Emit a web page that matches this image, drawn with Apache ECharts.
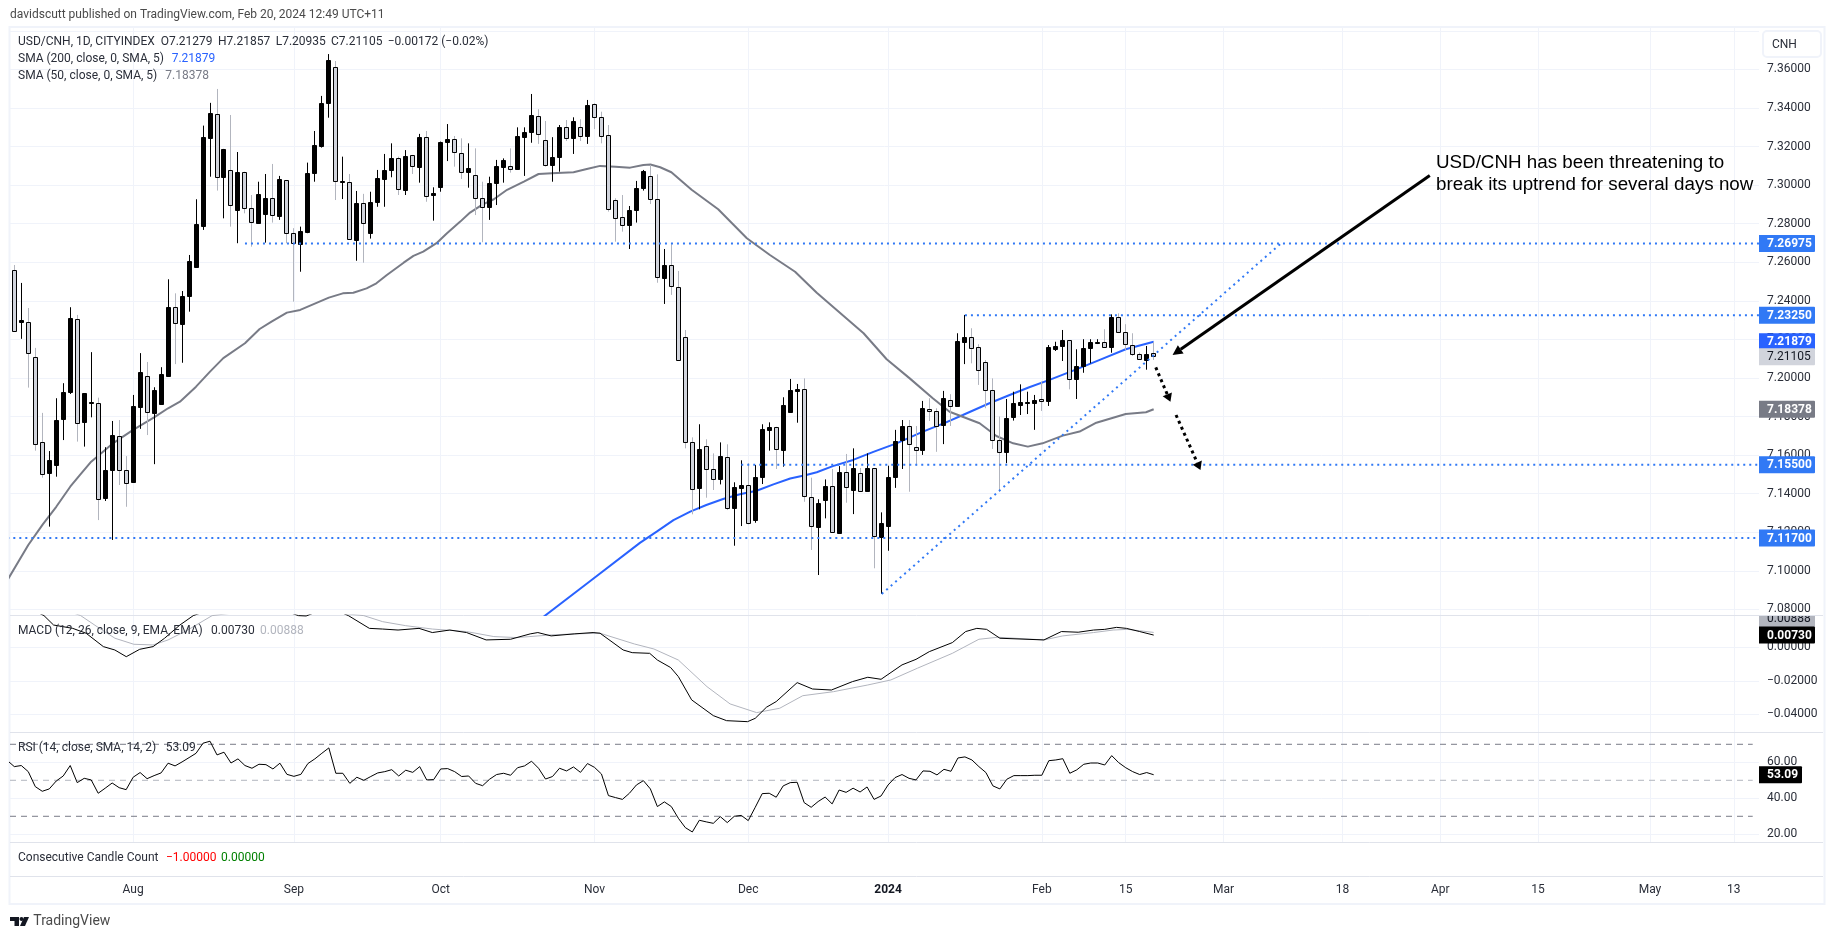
<!DOCTYPE html>
<html>
<head>
<meta charset="utf-8">
<title>USD/CNH</title>
<script src="https://cdn.jsdelivr.net/npm/echarts@6/dist/echarts.min.js"></script>
<style>
html, body { margin: 0; padding: 0; background: #fff; }
#main { width: 1835px; height: 939px; }
</style>
</head>
<body>
<div id="main"></div>
<script>
// daily bars
var opens = [
    7.2560,7.2293,7.2292,7.2111,7.1670,7.1504,7.1550,7.1784,7.1924,7.2305,
    7.1768,7.1872,7.1872,7.1374,7.1520,7.1701,7.1525,7.1457,7.1851,7.2009,
    7.1820,7.1865,7.2007,7.2367,7.2280,7.2422,7.2578,7.2790,7.3247,7.3368,
    7.3044,7.3077,7.2873,7.3067,7.2880,7.2806,7.2849,7.2932,7.2840,7.3026,
    7.2751,7.2692,7.2759,7.3060,7.3203,7.3423,7.3611,7.3016,7.3015,7.2717,
    7.2908,7.2754,7.2909,7.3032,7.3075,7.3139,7.2972,7.3155,7.3096,7.3249,
    7.2947,7.2987,7.3226,7.3238,7.3165,7.3065,7.3051,7.2932,7.2883,7.3008,
    7.3096,7.3098,7.3080,7.3247,7.3272,7.3361,7.3233,7.3101,7.3143,7.3300,
    7.3241,7.3300,7.3251,7.3420,7.3355,7.3259,7.2925,7.2833,7.2790,7.2868,
    7.2982,7.3046,7.2927,7.2520,7.2585,7.2474,7.2211,7.1670,7.1428,7.1649,
    7.1529,7.1472,7.1591,7.1322,7.1431,7.1444,7.1260,7.1483,7.1732,7.1744,
    7.1623,7.1825,7.1933,7.1941,7.1381,7.1229,7.1363,7.1438,7.1197,7.1511,
    7.1419,7.1506,7.1414,7.1532,7.1172,7.1232,7.1483,7.1678,7.1749,7.1640,
    7.1623,7.1841,7.1830,7.1757,7.1884,7.1851,7.2188,7.2214,7.2159,7.2081,
    7.1936,7.1677,7.1613,7.1794,7.1856,7.1871,7.1867,7.1889,7.1877,7.2147,
    7.2163,7.2196,7.1996,7.2059,7.2152,7.2183,7.2185,7.2157,7.2315,7.2237,
    7.2173,7.2123,7.2095,7.21279
];
var highs = [
    7.2586,7.2493,7.2363,7.2156,7.1819,7.1621,7.1895,7.1973,7.2367,7.2327,
    7.1921,7.2134,7.1898,7.1641,7.1777,7.1782,7.1595,7.1912,7.2129,7.2083,
    7.1952,7.2056,7.2512,7.2439,7.2451,7.2638,7.2927,7.3309,7.3427,7.3499,
    7.3188,7.3364,7.3172,7.3070,7.2949,7.3018,7.3058,7.3110,7.3048,7.3027,
    7.2777,7.2785,7.3117,7.3281,7.3463,7.3680,7.3644,7.3148,7.3058,7.2970,
    7.2955,7.2966,7.3079,7.3162,7.3217,7.3148,7.3182,7.3157,7.3266,7.3281,
    7.2989,7.3226,7.3317,7.3255,7.3243,7.3217,7.3191,7.3018,7.3044,7.3131,
    7.3139,7.3191,7.3300,7.3300,7.3473,7.3394,7.3333,7.3249,7.3312,7.3338,
    7.3352,7.3342,7.3442,7.3425,7.3381,7.3312,7.2932,7.2949,7.2892,7.3022,
    7.3079,7.3105,7.3056,7.2669,7.2694,7.2555,7.2249,7.1692,7.1760,7.1682,
    7.1609,7.1666,7.1656,7.1459,7.1573,7.1558,7.1549,7.1760,7.1770,7.1747,
    7.1900,7.1995,7.1969,7.1998,7.1483,7.1371,7.1474,7.1528,7.1543,7.1606,
    7.1635,7.1533,7.1609,7.1532,7.1303,7.1545,7.1731,7.1782,7.1782,7.1751,
    7.1881,7.1895,7.1843,7.1933,7.1916,7.2232,7.2327,7.2258,7.2175,7.2093,
    7.1998,7.1800,7.1891,7.1929,7.1967,7.1929,7.1912,7.1981,7.2171,7.2188,
    7.2249,7.2197,7.2149,7.2201,7.2201,7.2201,7.2253,7.2330,7.2335,7.2279,
    7.2232,7.2132,7.2166,7.21857
];
var lows = [
    7.2244,7.2203,7.1950,7.1623,7.1483,7.1229,7.1488,7.1678,7.1917,7.1670,
    7.1644,7.1796,7.1263,7.1362,7.1160,7.1445,7.1332,7.1457,7.1736,7.1704,
    7.1553,7.1860,7.2007,7.2072,7.2079,7.2344,7.2578,7.2768,7.3044,7.2972,
    7.2828,7.2785,7.2699,7.2854,7.2681,7.2806,7.2702,7.2806,7.2820,7.2699,
    7.2396,7.2551,7.2751,7.3018,7.3195,7.3350,7.2923,7.2928,7.2717,7.2608,
    7.2598,7.2723,7.2888,7.2888,7.3041,7.2949,7.2949,7.3058,7.3013,7.2914,
    7.2816,7.2966,7.3125,7.3096,7.3032,7.2987,7.2845,7.2704,7.2820,7.2897,
    7.3013,7.3065,7.3080,7.3048,7.3220,7.3214,7.3096,7.3018,7.3070,7.3229,
    7.3162,7.3229,7.3214,7.3291,7.3217,7.2863,7.2707,7.2759,7.2669,7.2806,
    7.2972,7.2902,7.2494,7.2384,7.2431,7.2097,7.1635,7.1293,7.1319,7.1379,
    7.1419,7.1448,7.1315,7.1130,7.1232,7.1241,7.1249,7.1450,7.1623,7.1528,
    7.1540,7.1825,7.1768,7.1358,7.1108,7.0978,7.1272,7.1197,7.1197,7.1353,
    7.1294,7.1415,7.1410,7.1013,7.0880,7.1104,7.1430,7.1528,7.1410,7.1545,
    7.1601,7.1777,7.1617,7.1657,7.1751,7.1851,7.2072,7.2076,7.1964,7.1843,
    7.1632,7.1410,7.1558,7.1779,7.1808,7.1813,7.1731,7.1829,7.1855,7.2140,
    7.2088,7.1941,7.1891,7.2027,7.2076,7.2176,7.2157,7.2131,7.2233,7.2145,
    7.2114,7.2096,7.2043,7.20935
];
var closes = [
    7.2246,7.2301,7.2129,7.1661,7.1506,7.1573,7.1781,7.1926,7.2310,7.1765,
    7.1921,7.1876,7.1376,7.1521,7.1703,7.1527,7.1460,7.1853,7.2030,7.1820,
    7.1938,7.2019,7.2367,7.2284,7.2425,7.2605,7.2799,7.3250,7.3375,7.3041,
    7.3188,7.2894,7.3068,7.2880,7.2808,7.2955,7.2932,7.2844,7.3031,7.2751,
    7.2699,7.2761,7.3063,7.3207,7.3427,7.3648,7.3018,7.3020,7.2717,7.2908,
    7.2803,7.2913,7.3036,7.3077,7.3139,7.2979,7.3150,7.3096,7.3250,7.2945,
    7.2958,7.3222,7.3240,7.3169,7.3065,7.3088,7.2930,7.2883,7.3010,7.3098,
    7.3131,7.3082,7.3253,7.3274,7.3362,7.3269,7.3103,7.3145,7.3300,7.3243,
    7.3331,7.3253,7.3414,7.3352,7.3259,7.2875,7.2833,7.2790,7.2870,7.2984,
    7.3072,7.2927,7.2522,7.2585,7.2474,7.2097,7.1666,7.1428,7.1630,7.1531,
    7.1479,7.1593,7.1329,7.1433,7.1444,7.1246,7.1485,7.1734,7.1746,7.1628,
    7.1858,7.1938,7.1943,7.1384,7.1229,7.1352,7.1438,7.1197,7.1511,7.1431,
    7.1532,7.1415,7.1532,7.1177,7.1246,7.1485,7.1672,7.1749,7.1656,7.1626,
    7.1843,7.1833,7.1752,7.1895,7.1853,7.2190,7.2214,7.2157,7.2040,7.1936,
    7.1677,7.1615,7.1791,7.1869,7.1874,7.1876,7.1884,7.1877,7.2159,7.2164,
    7.2196,7.1996,7.2061,7.2154,7.2185,7.2188,7.2157,7.2315,7.2237,7.2175,
    7.2128,7.2097,7.2126,7.21105
];

// moving averages, read at the bends of each line
var sma50Bars = [-1,2,4.1,6,8,9.4,11,14,17,20,22,23.7,26,28,29.9,33,35.1,36.8,39,40.9,45,47,48.5,50.4,51.8,53.3,55.7,57.1,58.5,60.4,61.9,63.8,65.2,66.9,68.6,70.5,72.9,75,76.9,80,81.9,83.8,86,88.1,90,91,92.4,94,96.9,100.7,104.8,108.1,111.7,114.8,121.5,124.8,128.1,131.4,133.8,138.1,140.5,142.9,145,147.1,150,152.4,154.8,159,161.9,163];
var sma50Values = [7.0950,7.1134,7.1242,7.1332,7.1436,7.1497,7.1566,7.1658,7.1731,7.1796,7.1843,7.1877,7.1955,7.2033,7.2103,7.2180,7.2254,7.2292,7.2339,7.2353,7.2417,7.2439,7.2442,7.2465,7.2491,7.2534,7.2598,7.2633,7.2655,7.2699,7.2751,7.2811,7.2858,7.2898,7.2927,7.2976,7.3018,7.3058,7.3062,7.3067,7.3084,7.3100,7.3096,7.3091,7.3105,7.3107,7.3093,7.3067,7.2976,7.2875,7.2725,7.2638,7.2551,7.2442,7.2232,7.2097,7.1998,7.1895,7.1825,7.1765,7.1699,7.1661,7.1644,7.1661,7.1701,7.1722,7.1768,7.1813,7.1822,7.18378];
var sma200Bars = [75.7,82.4,89.5,91.9,94.3,96.7,99,101.4,103.8,106.2,108.6,111,113.3,114.8,117.1,120,122.9,126.2,130,133.3,135.7,139.5,142.4,145.2,148.1,151.4,155.2,159,163];
var sma200Values = [7.0761,7.0947,7.1145,7.1203,7.1263,7.1307,7.1341,7.1372,7.1397,7.1415,7.1448,7.1479,7.1497,7.1511,7.1543,7.1575,7.1617,7.1661,7.1722,7.1770,7.1808,7.1869,7.1912,7.1952,7.1990,7.2037,7.2093,7.2149,7.21879];

// MACD pane
var macdBars = [-1,4.25,5.62,8.36,10.27,12.74,14.38,16.02,17.94,19.85,21.5,23.69,25.6,33,40.66,41.75,45,47.8,50.8,52.7,54.9,57.9,59.8,62.3,64.7,67.5,71,73.8,74.9,76.8,80.1,82.8,83.8,87.1,88.4,90.9,92,93.9,95,96.9,100,101.9,104.9,106,107.6,109,112,114.2,116.9,119.9,122.1,124,127,129,130.9,134.2,136.1,137.7,139.1,141,147.3,149.8,152.2,154.4,156,157.7,159.1,161,163];
var macdValues = [0.0300,0.0189,0.0133,0.0113,0.0084,0.0004,-0.0016,-0.0056,-0.0012,0.0004,0.0054,0.0133,0.0189,0.0300,0.0189,0.0187,0.0240,0.0189,0.0113,0.0109,0.0103,0.0113,0.0088,0.0103,0.0088,0.0044,0.0048,0.0080,0.0088,0.0068,0.0080,0.0088,0.0084,-0.0016,-0.0032,-0.0036,-0.0076,-0.0121,-0.0175,-0.0314,-0.0408,-0.0438,-0.0444,-0.0424,-0.0358,-0.0324,-0.0211,-0.0249,-0.0255,-0.0205,-0.0179,-0.0191,-0.0105,-0.0072,-0.0026,0.0028,0.0094,0.0113,0.0107,0.0054,0.0044,0.0094,0.0090,0.0103,0.0107,0.0119,0.0113,0.0094,0.0073];
var signalBars = [-1,9.5,12.2,14.4,17.1,19.85,22,24.8,28.3,38,50,52.7,56,59.8,64.7,68.6,71.9,76.8,80.1,83.8,88.7,91.5,95,99.1,102.4,106.2,109.5,112.8,117.2,122.1,125.4,129.2,134.2,138,140.7,147.3,150,154.4,157.2,159.3,163];
var signalValues = [0.0350,0.0189,0.0113,0.0054,0.0018,0.0014,0.0044,0.0103,0.0189,0.0240,0.0189,0.0153,0.0129,0.0109,0.0094,0.0064,0.0058,0.0074,0.0080,0.0084,0.0020,-0.0010,-0.0076,-0.0235,-0.0338,-0.0390,-0.0364,-0.0289,-0.0265,-0.0225,-0.0195,-0.0125,-0.0036,0.0048,0.0060,0.0044,0.0068,0.0088,0.0103,0.0107,0.00888];

// RSI pane, first value sits one bar left of the first candle
var rsiValues = [
    61.0,57.6,58.2,54.8,46.5,43.9,45.2,49.6,52.4,58.2,48.7,51.1,50.2,42.8,45.6,48.5,45.9,44.8,51.7,54.3,
    50.9,52.6,54.1,59.5,58.0,60.2,62.6,65.0,70.6,71.7,64.1,65.6,59.6,61.9,58.2,56.7,58.9,58.7,56.3,59.5,
    53.3,52.2,53.3,59.3,61.9,65.0,68.0,53.9,53.9,48.3,51.7,50.0,52.1,54.1,54.8,55.9,52.4,55.6,54.4,57.6,
    50.2,50.4,56.3,56.5,54.8,52.1,52.4,48.3,47.0,50.6,53.2,53.9,52.8,57.0,58.0,60.6,56.7,50.7,52.1,56.7,
    55.2,57.4,54.4,59.3,57.2,53.5,41.5,40.4,39.4,42.8,47.4,49.8,45.2,35.4,38.0,35.4,28.9,23.7,21.3,27.8,
    26.9,26.1,29.8,26.5,30.0,30.5,27.6,35.0,42.6,42.8,40.6,46.9,48.7,48.9,37.6,35.0,38.2,40.7,36.9,44.6,
    43.3,45.6,43.5,46.3,39.4,41.3,47.4,51.5,53.2,51.1,50.2,55.2,55.0,53.0,56.1,55.0,62.4,63.0,61.3,57.6,
    54.3,46.9,45.2,50.6,52.6,52.6,52.6,52.8,52.8,60.9,61.3,62.0,53.9,55.8,58.9,59.6,59.6,58.5,63.7,59.8,
    57.0,54.8,53.2,54.3,53.09
];
var rsiBands = [70, 50, 30];

// drawn levels and trend line
var levelPrices = [7.26975, 7.2325, 7.155, 7.117];
var levelStartBars = [33, 136, 104, -1];
var trendBars = [124.1, 181.2];
var trendPrices = [7.0880, 7.26975];
var solidArrow = [202.5, 7.3050, 165.7, 7.2119];
var dottedArrows = [[163.3, 7.2055, 165.4, 7.1877], [166.2, 7.1808, 169.7, 7.1523]];

// axes
var timeBars = [17, 40, 61, 83, 105, 125, 147, 159, 173, 190, 204, 218, 234, 246];
var timeLabels = ['Aug', 'Sep', 'Oct', 'Nov', 'Dec', '2024', 'Feb', '15', 'Mar', '18', 'Apr', '15', 'May', '13'];
var priceTicks = [7.08,7.10,7.12,7.14,7.16,7.18,7.20,7.22,7.24,7.26,7.28,7.30,7.32,7.34,7.36,7.38];
var macdTicks = [-0.04, -0.02, 0];
var rsiTicks = [20, 40, 60];

// value tags on the right
var priceTags = [7.26975, 7.2325, 7.155, 7.117, 7.18378, 7.21879, 7.21105];
var macdTags = [0.00888, 0.0073];
var rsiTags = [53.09];

var FONT = 'Roboto, sans-serif';
var TEXT = '#2a2e39';
var GRID = '#f0f3fa';
var PANE = '#e0e3eb';
var DRAW_BLUE = '#3179f5';
var BAR_MIN = -0.615, BAR_MAX = 249.6;

var chart = echarts.init(document.getElementById('main'));

var renderCandle = function (params, api) {
    var open = api.value(1), close = api.value(4);
    var pOpen = api.coord([api.value(0), open]);
    var pClose = api.coord([api.value(0), close]);
    var pHigh = api.coord([api.value(0), api.value(2)]);
    var pLow = api.coord([api.value(0), api.value(3)]);
    var x = Math.floor(pOpen[0]) + 0.5;
    var down = close < open;
    var top = Math.round(Math.min(pOpen[1], pClose[1])) + 0.5;
    var h = Math.round(Math.abs(pOpen[1] - pClose[1]));
    return {
        type: 'group',
        children: [
            {type: 'line', shape: {x1: x, y1: pHigh[1], x2: x, y2: pLow[1]}, style: {stroke: down ? '#b2b5be' : '#000', lineWidth: 1}},
            {type: 'rect', shape: {x: x - 2, y: top, width: 4, height: h}, style: {fill: down ? '#d1d4dc' : '#000', stroke: '#000', lineWidth: 1}}
        ]
    };
};

var arrowShape = function (api, row, color, lineWidth, dash, headLen, headHalf) {
    var a = api.coord([row[0], row[1]]);
    var b = api.coord([row[2], row[3]]);
    var dx = b[0] - a[0], dy = b[1] - a[1];
    var len = Math.sqrt(dx * dx + dy * dy);
    var ux = dx / len, uy = dy / len;
    var bx = b[0] - ux * headLen, by = b[1] - uy * headLen;
    return [
        {type: 'line', shape: {x1: a[0], y1: a[1], x2: bx, y2: by}, style: {stroke: color, lineWidth: lineWidth, lineDash: dash}},
        {type: 'polygon', shape: {points: [[b[0], b[1]], [bx - uy * headHalf, by + ux * headHalf], [bx + uy * headHalf, by - ux * headHalf]]}, style: {fill: color}}
    ];
};

// one custom series per pane for the coloured boxes on the scale
var tagSeries = function (values, axisIndex, digits, boxWidth, boxColors, textColors, shifts) {
    return {
        type: 'custom',
        xAxisIndex: axisIndex,
        yAxisIndex: axisIndex,
        z: 30,
        silent: true,
        data: values.map(function (v) { return [BAR_MAX, v]; }),
        renderItem: function (params, api) {
            var i = params.dataIndex;
            var p = api.coord([BAR_MAX, api.value(1)]);
            var y = p[1] + (shifts ? shifts[i] : 0);
            var weight = textColors[i] === '#fff' ? 'bold ' : '';
            var el = {
                type: 'group',
                children: [
                    {type: 'rect', shape: {x: p[0], y: y - 8.5, width: boxWidth, height: 17, r: [0, 1, 1, 0]}, style: {fill: boxColors[i]}},
                    {type: 'text', x: p[0] + 8, y: y + 0.5, style: {text: api.value(1).toFixed(digits), fill: textColors[i], font: weight + '12px ' + FONT, verticalAlign: 'middle'}}
                ]
            };
            if (shifts && shifts[i]) {
                el.clipPath = {type: 'rect', shape: {x: p[0], y: 616, width: boxWidth, height: 20}};
            }
            return el;
        }
    };
};

var pairs = function (xs, ys) {
    return xs.map(function (x, i) { return [x, ys[i]]; });
};

var lineSeries = function (data, axisIndex, color, width, dash, z) {
    return {
        type: 'line',
        xAxisIndex: axisIndex,
        yAxisIndex: axisIndex,
        data: data,
        showSymbol: false,
        silent: true,
        z: z || 2,
        lineStyle: {color: color, width: width, type: dash || 'solid'}
    };
};

var xAxis = function (gridIndex, withLines, withLabels) {
    return {
        type: 'value',
        gridIndex: gridIndex,
        min: BAR_MIN,
        max: BAR_MAX,
        axisLine: {show: false},
        axisTick: {show: false, customValues: timeBars},
        splitLine: {show: withLines, lineStyle: {color: GRID, width: 1}},
        axisLabel: {
            show: withLabels,
            customValues: timeBars,
            margin: 8,
            color: TEXT,
            fontFamily: FONT,
            fontSize: 12,
            rich: {b: {fontWeight: 'bold', color: '#131722', fontFamily: FONT, fontSize: 12}},
            formatter: function (v) {
                var name = timeLabels[timeBars.indexOf(v)];
                return name === '2024' ? '{b|2024}' : name;
            }
        }
    };
};

var yAxis = function (gridIndex, min, max, ticks, digits, labelLimit) {
    return {
        type: 'value',
        gridIndex: gridIndex,
        position: 'right',
        min: min,
        max: max,
        axisLine: {show: false},
        axisTick: {show: false, customValues: ticks},
        splitLine: {show: true, lineStyle: {color: GRID, width: 1}},
        axisLabel: {
            customValues: ticks,
            margin: 8,
            color: TEXT,
            fontFamily: FONT,
            fontSize: 12,
            formatter: function (v) {
                // the top gridline has no label, the CNH button sits there
                if (labelLimit && v > labelLimit) {
                    return '';
                }
                return v.toFixed(digits).replace('-', '\u2212');
            }
        }
    };
};

var series = [];
series.push(lineSeries(pairs(sma200Bars, sma200Values), 0, '#2962ff', 2, null, 2));
series.push(lineSeries(pairs(sma50Bars, sma50Values), 0, '#787b86', 2, null, 2));
series.push({
    type: 'custom',
    xAxisIndex: 0,
    yAxisIndex: 0,
    z: 3,
    silent: true,
    clip: true,
    encode: {x: 0, y: [1, 2, 3, 4]},
    data: opens.map(function (o, i) { return [i, o, highs[i], lows[i], closes[i]]; }),
    renderItem: renderCandle
});
levelPrices.forEach(function (price, i) {
    series.push(lineSeries([[levelStartBars[i], price], [BAR_MAX, price]], 0, DRAW_BLUE, 2, [2, 4], 4));
});
series.push(lineSeries(pairs(trendBars, trendPrices), 0, DRAW_BLUE, 2, [2, 4], 4));
series.push({
    type: 'custom',
    xAxisIndex: 0,
    yAxisIndex: 0,
    z: 5,
    silent: true,
    data: [solidArrow].concat(dottedArrows),
    renderItem: function (params, api) {
        var row = [api.value(0), api.value(1), api.value(2), api.value(3)];
        var kids = params.dataIndex === 0
            ? arrowShape(api, row, '#000', 3, null, 10, 5)
            : arrowShape(api, row, '#000', 3, [3, 3.5], 8, 5);
        return {type: 'group', children: kids};
    }
});
series.push(lineSeries(pairs(signalBars, signalValues), 1, '#b2b5be', 1));
series.push(lineSeries(pairs(macdBars, macdValues), 1, '#000', 1));
rsiBands.forEach(function (level) {
    series.push(lineSeries([[BAR_MIN, level], [248.7, level]], 2, level === 50 ? '#b2b5be' : '#787b86', 1, [6, 5]));
});
series.push(lineSeries(rsiValues.map(function (v, i) { return [i - 1, v]; }), 2, '#000', 1));
series.push(tagSeries(priceTags, 0, 5, 56,
    [DRAW_BLUE, DRAW_BLUE, DRAW_BLUE, DRAW_BLUE, '#787b86', '#2962ff', '#d1d4dc'],
    ['#fff', '#fff', '#fff', '#fff', '#fff', '#fff', '#131722']));
series.push(tagSeries(macdTags, 1, 5, 56, ['#b2b5be', '#000'], ['#131722', '#fff'], [-14, 0]));
series.push(tagSeries(rsiTags, 2, 2, 43, ['#000'], ['#fff']));

var label = function (x, y, text, color, size, family) {
    return {
        type: 'text', x: x, y: y, z: 40, silent: true,
        style: {text: text, fill: color, font: (size || 12) + 'px ' + (family || FONT), verticalAlign: 'middle'}
    };
};
var rule = function (y) {
    return {type: 'line', z: 1, silent: true, shape: {x1: 10, y1: y, x2: 1823, y2: y}, style: {stroke: PANE, lineWidth: 1}};
};

var elements = [
    {type: 'rect', z: 1, silent: true, shape: {x: 9.5, y: 27, width: 1815, height: 877}, style: {fill: 'none', stroke: GRID, lineWidth: 2}},
    rule(615.5), rule(732.5), rule(842.5), rule(876.5),
    {type: 'rect', z: 39, silent: true, shape: {x: 1763, y: 31, width: 58, height: 26, r: 4}, style: {fill: '#fff', stroke: GRID, lineWidth: 2}},
    label(1772, 44.5, 'CNH', TEXT),
    label(10, 15, 'davidscutt published on TradingView.com, Feb 20, 2024 12:49 UTC+11', '#4a4a4a'),
    label(18, 42, 'USD/CNH, 1D, CITYINDEX', TEXT),
    label(160.7, 42, 'O7.21279', TEXT),
    label(218, 42, 'H7.21857', TEXT),
    label(275.7, 42, 'L7.20935', TEXT),
    label(331, 42, 'C7.21105', TEXT),
    label(387.7, 42, '\u22120.00172 (\u22120.02%)', TEXT),
    label(18, 59, 'SMA (200, close, 0, SMA, 5)', TEXT),
    label(171.7, 59, '7.21879', '#2962ff'),
    label(18, 76, 'SMA (50, close, 0, SMA, 5)', TEXT),
    label(165.3, 76, '7.18378', '#787b86'),
    label(18, 630.7, 'MACD (12, 26, close, 9, EMA, EMA)', TEXT),
    label(211, 630.7, '0.00730', TEXT),
    label(260, 630.7, '0.00888', '#b2b5be'),
    label(18, 747.7, 'RSI (14, close, SMA, 14, 2)', TEXT),
    label(165.7, 747.7, '53.09', TEXT),
    label(18, 857.7, 'Consecutive Candle Count', TEXT),
    label(166, 857.7, '\u22121.00000', '#ff0000'),
    label(221, 857.7, '0.00000', '#008000'),
    label(1436, 163, 'USD/CNH has been threatening to', '#000', 18.8, '"Liberation Sans"'),
    label(1436, 184.5, 'break its uptrend for several days now', '#000', 18.8, '"Liberation Sans"'),
    label(33.3, 921.7, 'TradingView', '#4a4a4a', 14),
    {type: 'polygon', z: 40, silent: true, shape: {points: [[10, 917], [19, 917], [19, 926], [14.5, 926], [14.5, 921], [10, 921]]}, style: {fill: '#131722'}},
    {type: 'circle', z: 40, silent: true, shape: {cx: 21.5, cy: 919, r: 2}, style: {fill: '#131722'}},
    {type: 'polygon', z: 40, silent: true, shape: {points: [[24, 917], [29, 917], [25, 926], [20, 926]]}, style: {fill: '#131722'}}
];

chart.setOption({
    animation: false,
    backgroundColor: '#fff',
    textStyle: {fontFamily: FONT},
    grid: [
        {left: 10, width: 1749, top: 28, height: 587},
        {left: 10, width: 1749, top: 615, height: 117},
        {left: 10, width: 1749, top: 732, height: 110},
        {left: 10, width: 1749, top: 842, height: 34}
    ],
    xAxis: [xAxis(0, true, false), xAxis(1, true, false), xAxis(2, true, false), xAxis(3, false, true)],
    yAxis: [
        yAxis(0, 7.07707, 7.38152, priceTicks, 5, 7.37),
        yAxis(1, -0.05057, 0.01928, macdTicks, 5),
        yAxis(2, 15.72, 76.83, rsiTicks, 2),
        {type: 'value', gridIndex: 3, position: 'right', min: 0, max: 1, show: false}
    ],
    series: series,
    graphic: {elements: elements}
});
</script>
</body>
</html>
